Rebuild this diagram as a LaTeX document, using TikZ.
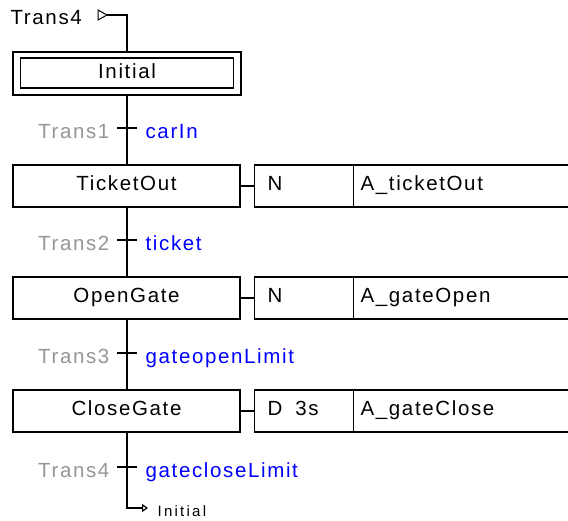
\documentclass[tikz,border=0pt]{standalone}
\usepackage{fontspec}
\setmainfont{Liberation Sans}[LetterSpace=8]
\newfontfamily\jumpfont{Liberation Sans}[LetterSpace=15]
\usetikzlibrary{arrows.meta}
\definecolor{tgray}{RGB}{150,150,150}
\definecolor{cblue}{RGB}{0,0,255}
\begin{document}
\begin{tikzpicture}[x=1pt,y=-1pt,line width=1.2pt,
  every node/.style={font=\fontsize{20.5}{23}\selectfont, inner sep=0pt},
  stepbox/.style={draw, minimum width=227pt, minimum height=42pt, text height=14.7pt, text depth=6.7pt},
  qualbox/.style={draw, anchor=west, minimum height=42pt, inner xsep=13pt, text width=73pt, align=left, text height=14.7pt, text depth=6.7pt},
  namebox/.style={draw, anchor=west, minimum height=42pt, inner xsep=7pt, text width=300pt, align=left, text height=14.7pt, text depth=6.7pt},
  tname/.style={text=tgray, anchor=base east},
  tcond/.style={text=cblue, anchor=base west},
  tbar/.style={line width=1.2pt},
  jumptip/.style={-{Triangle[open,length=6pt,width=8pt]}}]
\useasboundingbox (0,0) rectangle (568,520);
\clip (0,0) rectangle (568,520);
% initial step
\node[draw, minimum width=228pt, minimum height=43pt] (init) at (127,73.5) {};
\node[draw, minimum width=213pt, minimum height=30pt, text height=14.7pt, text depth=4.7pt] (initin) at (127,73) {Initial};
% steps
\node[stepbox] (s1) at (126.5,186) {TicketOut};
\node[stepbox] (s2) at (126.5,298) {OpenGate};
\node[stepbox] (s3) at (126.5,411) {CloseGate};
% actions
\node[qualbox] (q1) at (254,186) {N};
\node[namebox] (n1) at (353,186) {A\_ticketOut};
\node[qualbox] (q2) at (254,298) {N};
\node[namebox] (n2) at (353,298) {A\_gateOpen};
\node[qualbox] (q3) at (254,411) {D\hspace{13pt}3s};
\node[namebox] (n3) at (353,411) {A\_gateClose};
\draw (s1.east) -- (q1.west);
\draw (s2.east) -- (q2.west);
\draw (s3.east) -- (q3.west);
% transitions
\coordinate (t1) at (127,128);
\coordinate (t2) at (127,240);
\coordinate (t3) at (127,353);
\coordinate (t4) at (127,467);
\draw (init.south -| t1) -- (s1.north -| t1);
\draw (s1.south -| t2) -- (s2.north -| t2);
\draw (s2.south -| t3) -- (s3.north -| t3);
\foreach \t in {t1,t2,t3,t4}{\draw[tbar] ([xshift=-10pt]\t) -- ([xshift=10pt]\t);}
\node[tname] (t1n) at (110,138) {Trans1};
\node[tcond] (t1c) at (145,138) {carIn};
\node[tname] (t2n) at (110,250) {Trans2};
\node[tcond] (t2c) at (145,250) {ticket};
\node[tname] (t3n) at (110,363) {Trans3};
\node[tcond] (t3c) at (145,363) {gateopenLimit};
\node[tname] (t4n) at (110,477) {Trans4};
\node[tcond] (t4c) at (145,477) {gatecloseLimit};
% top jump in
\node[anchor=base west] (topl) at (10,24) {Trans4};
\coordinate (jin) at (107,15);
\draw (init.north -| t1) |- (jin);
\draw[line width=1pt] (jin) -- ++(-9,-5) -- ++(0,10) -- cycle;
% bottom jump out
\coordinate (jout) at (148,508);
\draw[jumptip] (s3.south -| t4) |- (jout);
\node[anchor=base west, font=\jumpfont\fontsize{15}{17}\selectfont] (jl) at (157,516) {Initial};
\end{tikzpicture}
\end{document}
